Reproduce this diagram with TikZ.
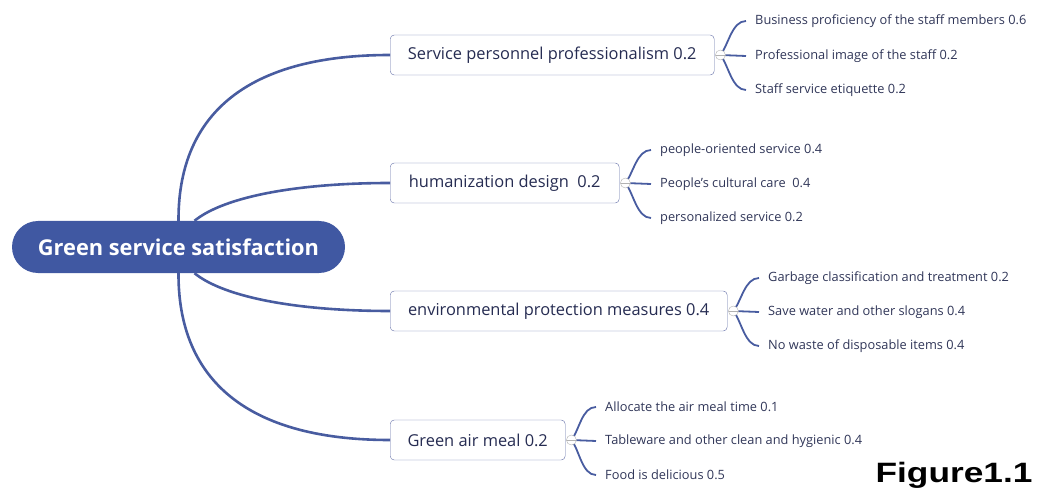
\documentclass[tikz,border=0pt]{standalone}
\usepackage{fontspec}
\setmainfont{Open Sans}
\newfontfamily\figfont{Liberation Sans}
\usetikzlibrary{positioning}
\definecolor{MapBlue}{RGB}{64,88,162}
\definecolor{EdgeBlue}{RGB}{72,92,160}
\definecolor{BoxLine}{RGB}{100,112,168}
\definecolor{InkNavy}{RGB}{38,44,82}
\definecolor{LeafInk}{RGB}{48,54,88}

\begin{document}
\begin{tikzpicture}[x=1pt, y=-1pt,
  root/.style={fill=MapBlue, rounded corners=26pt, minimum width=333pt, minimum height=52pt,
    text=white, font=\fontsize{21.8}{24}\selectfont\bfseries},
  topic/.style={draw=BoxLine, fill=white, rounded corners=4pt, minimum height=40pt, anchor=west,
    text=InkNavy, font=\fontsize{16.4}{19}\selectfont},
  leaf/.style={anchor=west, inner xsep=9pt, inner ysep=0pt, text=LeafInk, font=\fontsize{12.8}{15}\selectfont},
  fold/.style={circle, draw=gray!60, fill=white, inner sep=0pt, minimum size=10pt,
    path picture={\draw[gray!60] (path picture bounding box.west) -- (path picture bounding box.east);}},
  trunk/.style={EdgeBlue, line width=2.6pt},
  twig/.style={EdgeBlue, line width=1.8pt}
]
  \useasboundingbox (0,0) rectangle (1039,489);

  % centre and main topics
  \node[root] (gs) at (178.5,247) {Green service satisfaction};
  \node[topic, minimum width=324pt] (t1) at (390,55)  {Service personnel professionalism 0.2};
  \node[topic, minimum width=229pt] (t2) at (390,183) {humanization design\ \ 0.2};
  \node[topic, minimum width=337pt] (t3) at (390,311) {environmental protection measures 0.4};
  \node[topic, minimum width=175pt] (t4) at (390,440) {Green air meal 0.2};

  % sub-items
  \node[leaf] (l11) at (746,21)  {Business proficiency of the staff members 0.6};
  \node[leaf] (l12) at (746,56)  {Professional image of the staff 0.2};
  \node[leaf] (l13) at (746,90)  {Staff service etiquette 0.2};
  \node[leaf] (l21) at (651,150) {people-oriented service 0.4};
  \node[leaf] (l22) at (651,184) {People's cultural care\ \ 0.4};
  \node[leaf] (l23) at (651,218) {personalized service 0.2};
  \node[leaf] (l31) at (759,278) {Garbage classification and treatment 0.2};
  \node[leaf] (l32) at (759,312) {Save water and other slogans 0.4};
  \node[leaf] (l33) at (759,346) {No waste of disposable items 0.4};
  \node[leaf] (l41) at (596,407) {Allocate the air meal time 0.1};
  \node[leaf] (l42) at (596,441) {Tableware and other clean and hygienic 0.4};
  \node[leaf] (l43) at (596,475) {Food is delicious 0.5};

  % branches from the centre
  \draw[trunk] (gs.north) .. controls (178,120) and (240,55) .. (t1.west);
  \draw[trunk] ([xshift=16pt]gs.north) .. controls (225,196) and (300,183) .. (t2.west);
  \draw[trunk] ([xshift=16pt]gs.south) .. controls (225,298) and (300,311) .. (t3.west);
  \draw[trunk] (gs.south) .. controls (178,374) and (240,440) .. (t4.west);

  % collapse buttons and their twigs
  \foreach \t in {1,2,3,4}{
    \coordinate[right=6pt of t\t] (k\t);
    \draw[twig] (k\t) .. controls ++(8,-10) and ++(-14,0) .. (l\t1.west);
    \draw[twig] (k\t) -- (l\t2.west);
    \draw[twig] (k\t) .. controls ++(8,10) and ++(-14,0) .. (l\t3.west);
    \node[fold] (f\t) at (k\t) {};
  }

  \node[anchor=base east, font=\figfont\fontsize{28}{28}\selectfont\bfseries] (fig) at (1036,482)
    {\scalebox{1.26}[1]{Figure1.1}};
\end{tikzpicture}
\end{document}
